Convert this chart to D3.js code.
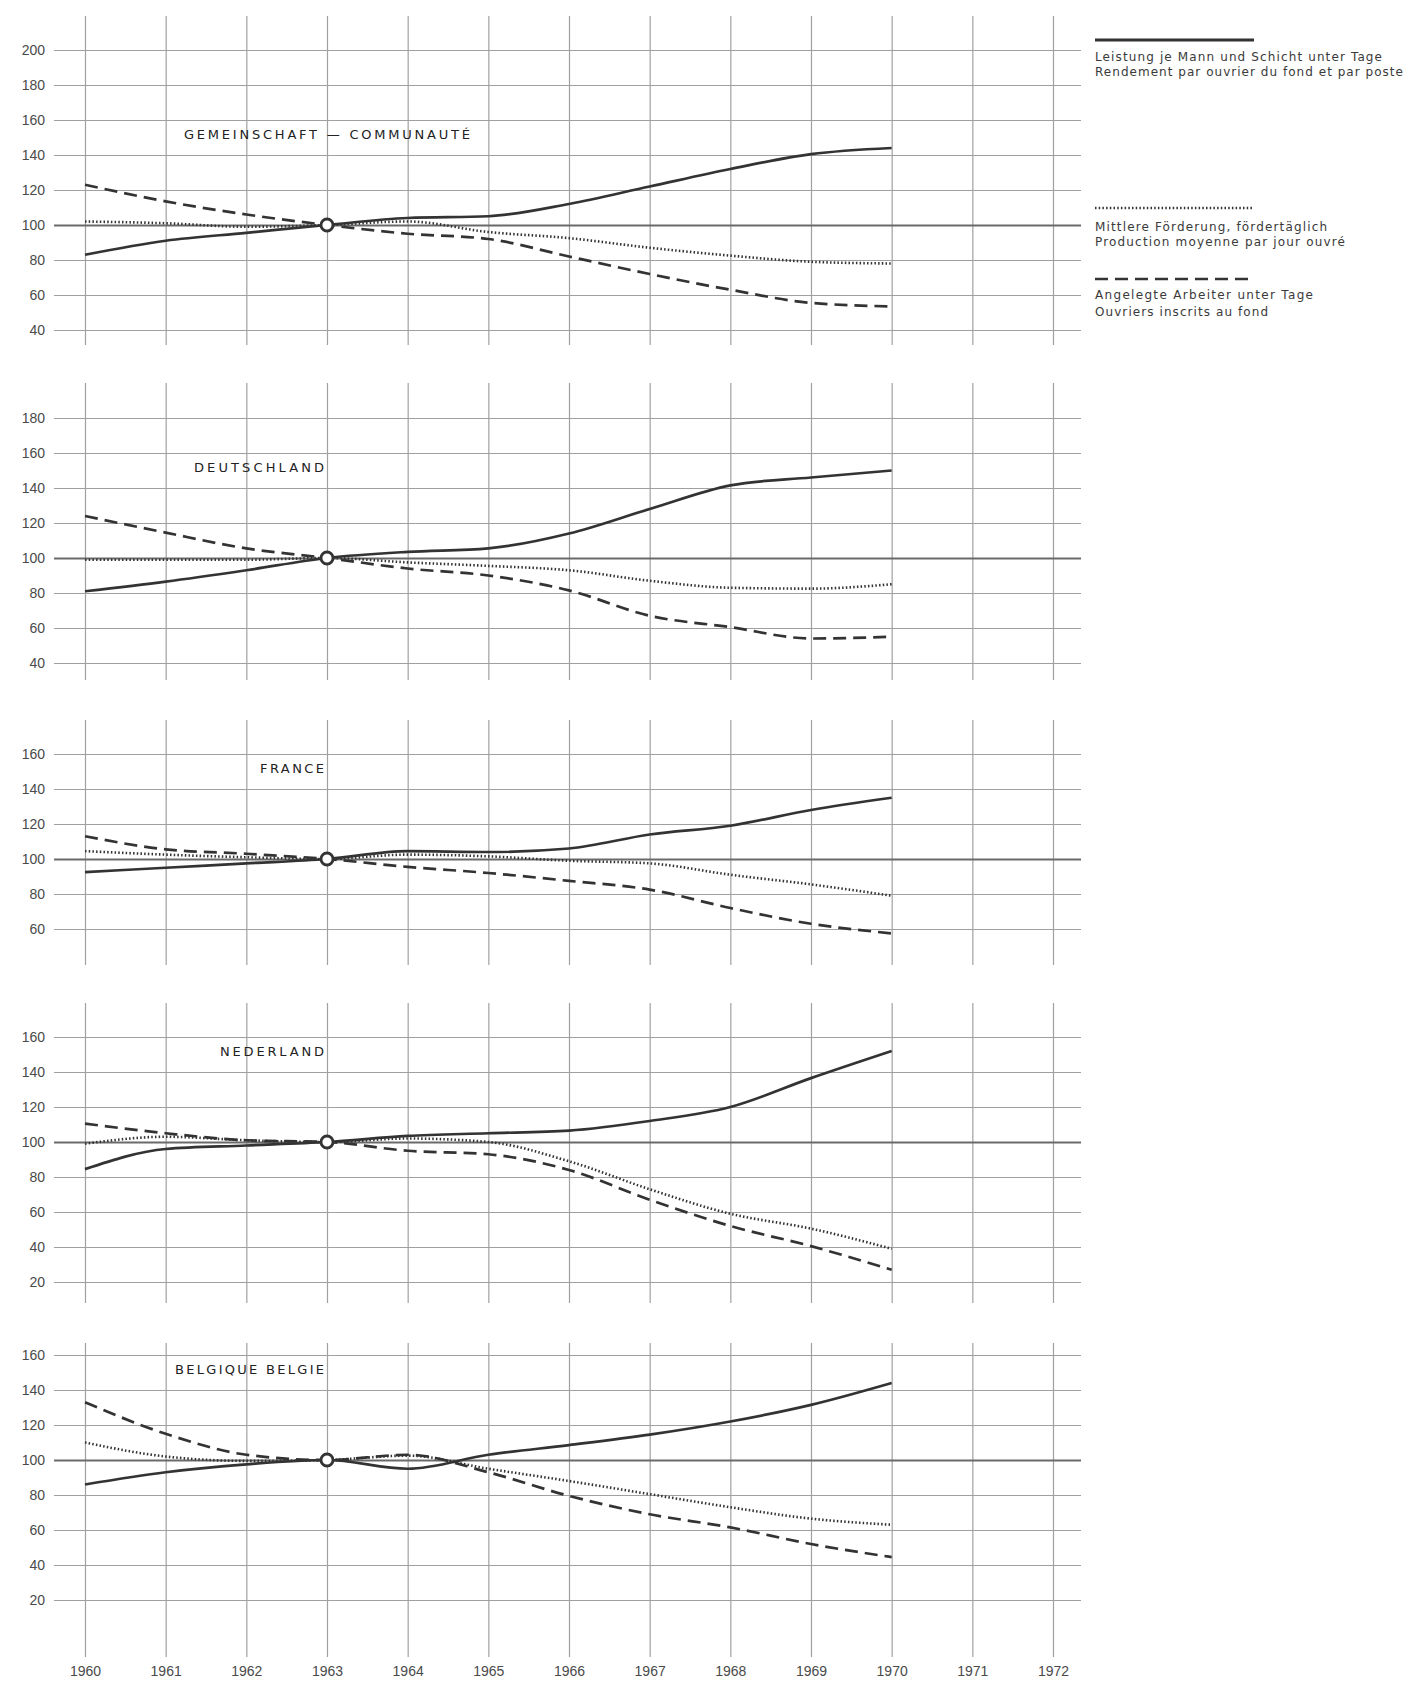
<!DOCTYPE html>
<html>
<head>
<meta charset="utf-8">
<script src="https://cdn.jsdelivr.net/npm/d3@7"></script>
<style>
  html, body { margin: 0; padding: 0; background: #fff; }
  svg { display: block; font-family: "DejaVu Sans", sans-serif; }
</style>
</head>
<body>
<svg id="chart" width="1420" height="1681"></svg>
<script>
// ---------- DATA ----------
const years = [1960, 1961, 1962, 1963, 1964, 1965, 1966, 1967, 1968, 1969, 1970];
const axisYears = [1960, 1961, 1962, 1963, 1964, 1965, 1966, 1967, 1968, 1969, 1970, 1971, 1972];

const panelTitles = ["GEMEINSCHAFT — COMMUNAUTÉ", "DEUTSCHLAND", "FRANCE", "NEDERLAND", "BELGIQUE BELGIE"];

const ticksEG = [40, 60, 80, 100, 120, 140, 160, 180, 200];
const ticksDE = [40, 60, 80, 100, 120, 140, 160, 180];
const ticksFR = [60, 80, 100, 120, 140, 160];
const ticksNL = [20, 40, 60, 80, 100, 120, 140, 160];
const ticksBE = [20, 40, 60, 80, 100, 120, 140, 160];

// Leistung je Mann und Schicht unter Tage (solid)
const leistungEG = [83, 91, 95.5, 100, 104, 105, 112, 122, 132, 140.5, 144];
const leistungDE = [81, 86.5, 93, 100, 103.5, 105.5, 114, 128, 141.5, 146, 150];
const leistungFR = [92.5, 95, 97.5, 100, 104.5, 104, 106, 114, 119, 128, 135];
const leistungNL = [84.5, 96, 98, 100, 103.5, 105, 106.5, 112, 120, 136.5, 152];
const leistungBE = [86, 93, 97.5, 100, 95, 103, 108.5, 114.5, 122, 131.5, 144];

// Mittlere Förderung, fördertäglich (dotted)
const foerderungEG = [102, 101, 99, 100, 102, 96, 92.5, 87, 82.5, 79, 78];
const foerderungDE = [99, 99, 99, 100, 97.5, 95.5, 93, 87, 83, 82.5, 85];
const foerderungFR = [104.5, 102.5, 101, 100, 102.5, 101.5, 99, 97.5, 91, 85.5, 79];
const foerderungNL = [99, 103, 101, 100, 102, 100, 89, 73, 59, 50.5, 39];
const foerderungBE = [110, 102, 99.5, 100, 102.5, 95, 88, 80.5, 73, 66.5, 63];

// Angelegte Arbeiter unter Tage (dashed)
const arbeiterEG = [123, 113.5, 106, 100, 95, 92, 82, 72, 63, 55.5, 53.5];
const arbeiterDE = [124, 114.5, 105.5, 100, 94, 90, 81.5, 67, 60.5, 54, 55];
const arbeiterFR = [113, 105.5, 103, 100, 95.5, 92, 87.5, 82.5, 72, 63, 57.5];
const arbeiterNL = [110.5, 105, 101, 100, 95, 93, 84, 67, 52, 40.5, 27];
const arbeiterBE = [133, 115, 103, 100, 103, 93, 79.5, 69, 61.5, 52, 44.5];

const legendLabels = [
  ["Leistung je Mann und Schicht unter Tage", "Rendement par ouvrier du fond et par poste"],
  ["Mittlere Förderung, fördertäglich", "Production moyenne par jour ouvré"],
  ["Angelegte Arbeiter unter Tage", "Ouvriers inscrits au fond"]
];

const baseYear = 1963;
const baseValue = 100;
const titleValue = 152;

// ---------- LAYOUT ----------
const panelTicks = [ticksEG, ticksDE, ticksFR, ticksNL, ticksBE];
const panelSeries = [
  [leistungEG, foerderungEG, arbeiterEG],
  [leistungDE, foerderungDE, arbeiterDE],
  [leistungFR, foerderungFR, arbeiterFR],
  [leistungNL, foerderungNL, arbeiterNL],
  [leistungBE, foerderungBE, arbeiterBE]
];
const panelLayout = [
  { y100: 225, top: 16, bottom: 345, anchor: "middle", dx: 0, len: 286 },
  { y100: 558, top: 383, bottom: 680, anchor: "end", dx: -3, len: 130 },
  { y100: 859, top: 720, bottom: 965, anchor: "end", dx: -3, len: 64 },
  { y100: 1142, top: 1003, bottom: 1303, anchor: "end", dx: -3, len: 104 },
  { y100: 1460, top: 1343, bottom: 1657, anchor: "end", dx: -3, len: 149 }
];
const seriesStyles = [
  { width: 2.7, dash: null },
  { width: 2.6, dash: "1.5,2.2" },
  { width: 2.7, dash: "13,7" }
];
const legendLayout = [
  { lineY: 40, textY: [61, 76], lens: [287, 308] },
  { lineY: 208, textY: [231, 246], lens: [232, 250] },
  { lineY: 279, textY: [299, 316], lens: [218, 173] }
];

const pxPerUnit = 1.75;
const gridLeft = 54, gridRight = 1081;
const lineColor = "#333";

const svg = d3.select("#chart");
const x = d3.scaleLinear().domain([1960, 1972]).range([85, 1053]);

panelLayout.forEach((L, i) => {
  const y = d3.scaleLinear()
    .domain([baseValue - (L.bottom - L.y100) / pxPerUnit, baseValue + (L.y100 - L.top) / pxPerUnit])
    .range([L.bottom, L.top]);
  const g = svg.append("g");

  // vertical grid (and year labels on last panel)
  const xAxis = d3.axisBottom(x)
    .tickValues(axisYears)
    .tickSize(-(L.bottom - L.top))
    .tickPadding(9)
    .tickFormat(i === panelLayout.length - 1 ? d3.format("d") : () => "");
  const gx = g.append("g").attr("transform", `translate(0,${L.bottom})`).call(xAxis);
  gx.select(".domain").remove();
  gx.selectAll("line").attr("stroke", "#a0a0a0").attr("stroke-width", 1.2);
  gx.selectAll("text").attr("fill", "#4a4a4a").attr("font-size", 14);

  // horizontal grid + labels
  const yAxis = d3.axisLeft(y)
    .tickValues(panelTicks[i])
    .tickSize(-(gridRight - gridLeft))
    .tickPadding(9)
    .tickFormat(d3.format("d"));
  const gy = g.append("g").attr("transform", `translate(${gridLeft},0)`).call(yAxis);
  gy.select(".domain").remove();
  gy.selectAll(".tick line")
    .attr("stroke", d => d === baseValue ? "#6a6a6a" : "#a0a0a0")
    .attr("stroke-width", d => d === baseValue ? 1.8 : 1.2);
  gy.selectAll("text").attr("fill", "#4a4a4a").attr("font-size", 14);

  // title
  g.append("text")
    .attr("x", x(baseYear) + L.dx)
    .attr("y", y(titleValue) + 5)
    .attr("text-anchor", L.anchor)
    .attr("font-size", 13)
    .attr("fill", "#222")
    .attr("textLength", L.len)
    .attr("lengthAdjust", "spacing")
    .text(panelTitles[i]);

  // series
  const line = d3.line()
    .x((d, j) => x(years[j]))
    .y(d => y(d))
    .curve(d3.curveMonotoneX);
  panelSeries[i].forEach((vals, s) => {
    const st = seriesStyles[s];
    g.append("path")
      .datum(vals)
      .attr("d", line)
      .attr("fill", "none")
      .attr("stroke", lineColor)
      .attr("stroke-width", st.width)
      .attr("stroke-dasharray", st.dash);
  });

  // base point circle
  g.append("circle")
    .attr("cx", x(baseYear))
    .attr("cy", y(baseValue))
    .attr("r", 6)
    .attr("fill", "#fff")
    .attr("stroke", lineColor)
    .attr("stroke-width", 2.8);
});

// legend
const legendX0 = 1095, legendX1 = 1254;
legendLayout.forEach((L, s) => {
  const st = seriesStyles[s];
  svg.append("line")
    .attr("x1", legendX0).attr("x2", legendX1)
    .attr("y1", L.lineY).attr("y2", L.lineY)
    .attr("stroke", lineColor)
    .attr("stroke-width", s === 0 ? 3.2 : 2.4)
    .attr("stroke-dasharray", st.dash);
  legendLabels[s].forEach((t, k) => {
    svg.append("text")
      .attr("x", legendX0)
      .attr("y", L.textY[k])
      .attr("font-size", 12)
      .attr("fill", "#3a3a3a")
      .attr("textLength", L.lens[k])
      .attr("lengthAdjust", "spacing")
      .text(t);
  });
});
</script>
</body>
</html>
